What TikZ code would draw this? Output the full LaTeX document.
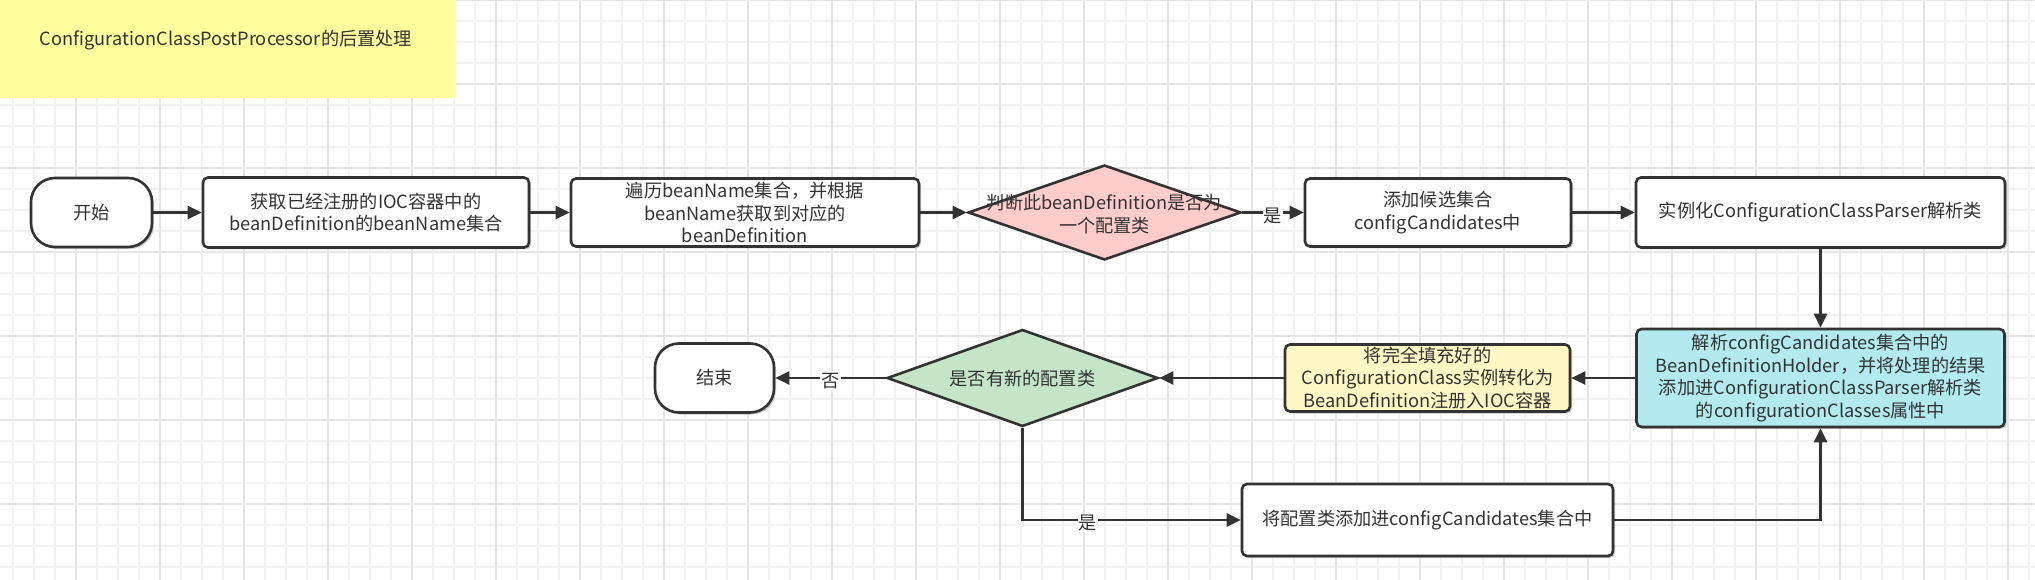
\documentclass[tikz,border=0pt]{standalone}
\usepackage{fontspec}
\setmainfont{Noto Sans CJK SC}
\usetikzlibrary{arrows.meta,shapes.geometric,shadows}
\definecolor{ink}{HTML}{333333}
\definecolor{gridminor}{HTML}{F2F2F2}
\definecolor{gridmajor}{HTML}{E6E6E6}
\definecolor{titlefill}{HTML}{FFFF9E}
\definecolor{pinkfill}{HTML}{FFCCCC}
\definecolor{greenfill}{HTML}{C5E5C8}
\definecolor{cyanfill}{HTML}{B2EAF0}
\definecolor{yellowfill}{HTML}{FFF7C4}
\tikzset{
  txt/.style={font=\fontsize{18.2pt}{22.5pt}\selectfont, text=ink, align=center, inner sep=0pt},
  box/.style={txt, draw=ink, line width=2.6pt, fill=white, rounded corners=5pt,
    drop shadow={shadow xshift=2pt, shadow yshift=-2pt, fill=black, opacity=0.2}},
  term/.style={box, rounded corners=24pt},
  dia/.style={diamond, draw=ink, line width=2.6pt, inner sep=0pt},
  conn/.style={draw=ink, line width=2.6pt, -{Triangle[length=14pt,width=13pt]}},
  lbl/.style={txt, fill=white, inner sep=1pt},
  gminor/.style={draw=gridminor, line width=1.5pt},
  gmajor/.style={draw=gridmajor, line width=1.5pt},
}
\begin{document}
\begin{tikzpicture}[x=1pt,y=-1pt]
\useasboundingbox (0,0) rectangle (2035,580);
\fill[white] (0,0) rectangle (2035,580);
% grid
\foreach \i in {0,...,96} \draw[gminor] ({13+21*\i},0) -- ({13+21*\i},580);
\foreach \j in {0,...,27} \draw[gminor] (0,{21*\j}) -- (2035,{21*\j});
\foreach \i in {0,...,23} \draw[gmajor] ({76+84*\i},0) -- ({76+84*\i},580);
\foreach \j in {0,...,6} \draw[gmajor] (0,{84*\j}) -- (2035,{84*\j});

% title note
\node[fill=titlefill, minimum width=456pt, minimum height=98pt, inner sep=0pt, anchor=north west] (title) at (0,0) {};
\node[txt] (titlet) at (226,40) {ConfigurationClassPostProcessor的后置处理};

% top row
\node[term, minimum width=121pt, minimum height=69pt] (st) at (91.5,212.5) {开始};
\node[box, minimum width=326pt, minimum height=70pt] (b1) at (366,212.5) {获取已经注册的IOC容器中的\\beanDefinition的beanName集合};
\node[box, minimum width=348pt, minimum height=68pt] (b2) at (745,212.5) {遍历beanName集合，并根据\\beanName获取到对应的\\beanDefinition};
\node[dia, fill=pinkfill, minimum width=273pt, minimum height=95pt] (d1) at (1104.5,212.5) {};
\node[txt] (d1t) at (1104.5,214) {判断此beanDefinition是否为\\一个配置类};
\node[box, minimum width=266pt, minimum height=68pt] (b3) at (1438,212.5) {添加候选集合\\configCandidates中};
\node[box, minimum width=369pt, minimum height=70pt] (b4) at (1820.5,212.5) {实例化ConfigurationClassParser解析类};

% middle row
\node[box, fill=cyanfill, minimum width=368pt, minimum height=98pt] (b5) at (1820.5,378) {解析configCandidates集合中的\\BeanDefinitionHolder，并将处理的结果\\添加进ConfigurationClassParser解析类\\的configurationClasses属性中};
\node[box, fill=yellowfill, minimum width=285pt, minimum height=67pt] (b6) at (1427.5,378) {将完全填充好的\\ConfigurationClass实例转化为\\BeanDefinition注册入IOC容器};
\node[dia, fill=greenfill, minimum width=271pt, minimum height=97pt] (d2) at (1022.5,378) {};
\node[txt] (d2t) at (1022.5,379) {是否有新的配置类};
\node[term, minimum width=119pt, minimum height=69pt] (en) at (714.5,378) {结束};

% bottom row
\node[box, minimum width=371pt, minimum height=72pt] (b7) at (1427.5,520) {将配置类添加进configCandidates集合中};

% connectors
\draw[conn] (st) -- (b1);
\draw[conn] (b1) -- (b2);
\draw[conn] (b2) -- (d1);
\draw[conn] (d1) -- node[lbl, yshift=-3pt] (l1) {是} (b3);
\draw[conn] (b3) -- (b4);
\draw[conn] (b4) -- (b5);
\draw[conn] (b5) -- (b6);
\draw[conn] (b6) -- (d2);
\draw[conn] (d2) -- node[lbl, yshift=-3pt] (l2) {否} (en);
\draw[conn] (d2) |- node[lbl, pos=0.65, yshift=-3pt] (l3) {是} (b7);
\draw[conn] (b7) -| (b5);
\end{tikzpicture}
\end{document}
